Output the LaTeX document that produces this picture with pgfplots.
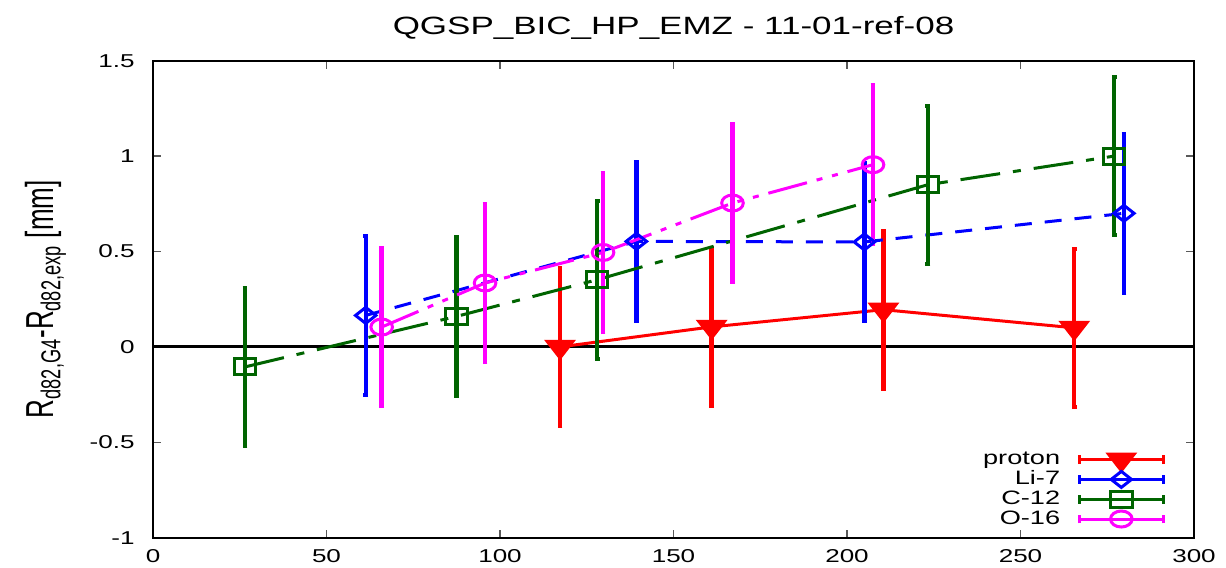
\documentclass[border=0pt]{standalone}
\usepackage{graphicx}
\usepackage{pgfplots}
\pgfplotsset{compat=1.18}
\usepackage{fontspec}
\setmainfont{Liberation Sans}[FakeStretch=1.4]
\newfontfamily\ylfont{Liberation Sans}
\definecolor{cp}{RGB}{255,0,0}
\definecolor{cl}{RGB}{0,0,255}
\definecolor{cc}{RGB}{0,100,0}
\definecolor{co}{RGB}{255,0,255}

\pgfplotstableread{
x y e
117.3 0.000 0.415
161.0 0.105 0.415
210.5 0.195 0.415
265.5 0.100 0.415
}\proton
\pgfplotstableread{
x y e
61.3 0.165 0.415
139.3 0.553 0.415
205.0 0.550 0.415
279.8 0.700 0.415
}\lis
\pgfplotstableread{
x y e
26.5 -0.105 0.415
87.5 0.160 0.415
128.0 0.352 0.415
223.3 0.850 0.415
277.0 1.000 0.415
}\carbon
\pgfplotstableread{
x y e
65.9 0.104 0.415
95.7 0.335 0.415
129.7 0.495 0.415
167.0 0.754 0.415
207.5 0.955 0.415
}\oxygen

\begin{document}
\begin{tikzpicture}
\useasboundingbox (-76.5pt,-15pt) rectangle (536.5pt,268.85pt);
\begin{axis}[
  scale only axis, width=520.5pt, height=238.5pt,
  xmin=0, xmax=300, ymin=-1, ymax=1.5,
  xtick={0,50,100,150,200,250,300},
  xticklabels={0,50,100,150,200,250,300},
  ytick={-1,-0.5,0,0.5,1,1.5},
  yticklabels={-1,-0.5,0,0.5,1,1.5},
  /pgf/number format/assume math mode=true,
  axis line style={line width=1pt},
  tick style={line width=0.8pt, black!65},
  major tick length=4pt,
  tick align=inside,
  ticklabel style={font=\fontsize{9.3}{11}\selectfont},
  xticklabel style={anchor=base, inner sep=0pt, yshift=-12.5pt},
  yticklabel style={anchor=east, inner sep=0pt, xshift=-9pt},
  title={QGSP\_BIC\_HP\_EMZ - 11-01-ref-08},
  title style={font=\fontsize{12.5}{14}\selectfont, at={(0.5,1)}, anchor=base, yshift=6.9pt, inner sep=0pt},
  ylabel={\scalebox{1}[1.5]{R\textsubscript{d82,G4}-R\textsubscript{d82,exp} [mm]}},
  ylabel style={font=\ylfont\fontsize{13}{15}\selectfont, at={(axis description cs:-0.096,0.5)}, anchor=base, inner sep=0pt},
  legend style={draw=none, fill=none, at={(rel axis cs:0.9717,0.0184)}, anchor=south east,
    inner sep=0pt, outer sep=0pt, font=\fontsize{9.7}{11}\selectfont, row sep=0pt, column sep=9pt,
    nodes={inner sep=0pt, minimum height=9.9pt}},
  legend cell align=right,
  legend plot pos=right,
  legend image code/.code={
    \draw[#1, solid, line width=1.5pt] (0pt,0pt) -- (41.7pt,0pt);
    \draw[#1, solid, line width=1.5pt] (0pt,-2.2pt) -- (0pt,2.2pt);
    \draw[#1, solid, line width=1.5pt] (41.7pt,-2.2pt) -- (41.7pt,2.2pt);
    \draw[#1, solid, overlay] plot coordinates {(20.85pt,0pt)};
  },
  error bars/error bar style={line width=2.2pt, solid},
  error bars/error mark options={solid, rotate=90, mark size=1.2pt, line width=2pt},
]
\addplot[black, line width=1.5pt, forget plot] coordinates {(0,0) (300,0)};

\addplot[cp, line width=1.5pt, mark=triangle*,
  mark options={solid, rotate=180, mark size=5.5pt, xscale=1.35},
  error bars/.cd, y dir=both, y explicit]
  table[x=x, y=y, y error=e] {\proton};
\addlegendentry{proton}

\addplot[cl, line width=1.5pt, dash pattern=on 8.5pt off 6.5pt, mark=diamond,
  mark options={solid, mark size=4pt, xscale=1.7, line width=1.5pt},
  error bars/.cd, y dir=both, y explicit]
  table[x=x, y=y, y error=e] {\lis};
\addlegendentry{Li-7}

\addplot[cc, line width=1.5pt, dash pattern=on 20pt off 6.5pt on 4pt off 6.5pt, mark=square,
  mark options={solid, mark size=4pt, xscale=1.35, line width=1.5pt},
  error bars/.cd, y dir=both, y explicit]
  table[x=x, y=y, y error=e] {\carbon};
\addlegendentry{C-12}

\addplot[co, line width=1.5pt, dash pattern=on 20pt off 5pt on 3pt off 5pt on 3pt off 5pt, mark=o,
  mark options={solid, mark size=4pt, xscale=1.35, line width=1.5pt},
  error bars/.cd, y dir=both, y explicit]
  table[x=x, y=y, y error=e] {\oxygen};
\addlegendentry{O-16}
\end{axis}
\end{tikzpicture}
\end{document}
